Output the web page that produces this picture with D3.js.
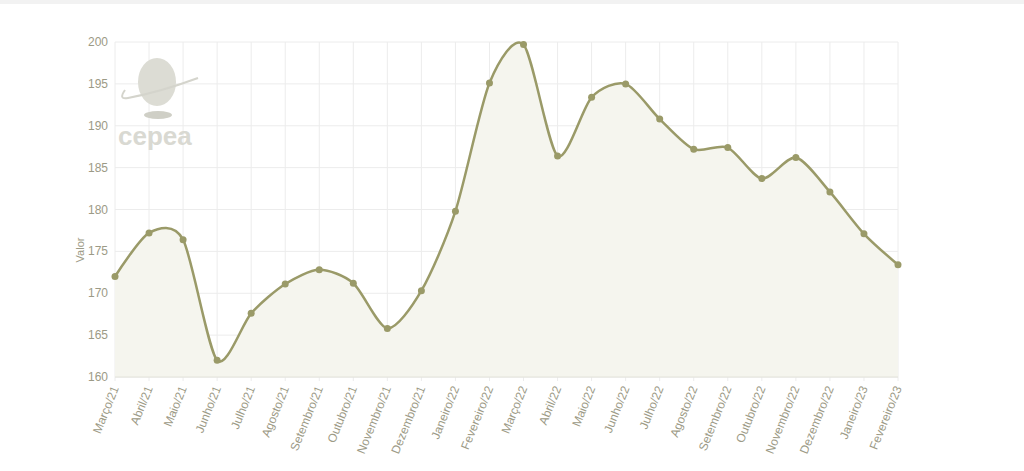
<!DOCTYPE html>
<html><head><meta charset="utf-8">
<script src="https://cdn.jsdelivr.net/npm/d3@7"></script>
<style>body{margin:0;background:#fff;font-family:"Liberation Sans",Arial,sans-serif}</style>
</head><body><svg id="c" width="1024" height="471"></svg>
<script>
const months = ['Março/21','Abril/21','Maio/21','Junho/21','Julho/21','Agosto/21','Setembro/21','Outubro/21','Novembro/21','Dezembro/21','Janeiro/22','Fevereiro/22','Março/22','Abril/22','Maio/22','Junho/22','Julho/22','Agosto/22','Setembro/22','Outubro/22','Novembro/22','Dezembro/22','Janeiro/23','Fevereiro/23'];
const values = [172,177.2,176.4,162,167.6,171.1,172.8,171.2,165.8,170.3,179.8,195.1,199.7,186.4,193.4,195.0,190.8,187.2,187.4,183.7,186.2,182.1,177.1,173.4];
const yTicks = [160,165,170,175,180,185,190,195,200];

const svg = d3.select('#c');
svg.append('rect').attr('width',1024).attr('height',4).attr('fill','#f2f2f2');
const x = d3.scalePoint().domain(months).range([115,898]);
const y = d3.scaleLinear().domain([160,200]).range([377,42]);
const tc = '#9c9a86';

// grid
svg.append('g').selectAll('line').data(yTicks).enter().append('line')
  .attr('x1',115).attr('x2',898).attr('y1',d=>y(d)).attr('y2',d=>y(d))
  .attr('stroke','#ececec');
svg.append('g').selectAll('line').data(months).enter().append('line')
  .attr('x1',d=>x(d)).attr('x2',d=>x(d)).attr('y1',42).attr('y2',381)
  .attr('stroke','#ececec');

// logo
const lg = svg.append('g').attr('fill','#d4d4cc');
lg.append('ellipse').attr('cx',157).attr('cy',82).attr('rx',19).attr('ry',24).attr('fill','#dcdcd4');
lg.append('path').attr('d','M198,78 Q160,92 128,98 Q118,100 125,90').attr('fill','none').attr('stroke','#d4d4cc').attr('stroke-width',2);
lg.append('ellipse').attr('cx',158).attr('cy',115).attr('rx',14).attr('ry',4).attr('fill','#cfcfc6');
lg.append('text').attr('x',118).attr('y',145).attr('font-size',26).attr('font-weight','bold').attr('fill','#d9d9d2').text('cepea');

// area + line
const area = d3.area().x((d,i)=>x(months[i])).y0(377).y1(d=>y(d)).curve(d3.curveCardinal.tension(0.2));
const line = d3.line().x((d,i)=>x(months[i])).y(d=>y(d)).curve(d3.curveCardinal.tension(0.2));
svg.append('path').datum(values).attr('d',area).attr('fill','#f5f5ee');
svg.append('line').attr('x1',115).attr('x2',898).attr('y1',377).attr('y2',377).attr('stroke','#e2e2da');
svg.append('path').datum(values).attr('d',line).attr('fill','none').attr('stroke','#9a9a68').attr('stroke-width',2.5);
svg.append('g').selectAll('circle').data(values).enter().append('circle')
  .attr('cx',(d,i)=>x(months[i])).attr('cy',d=>y(d)).attr('r',3.5).attr('fill','#9a9a68');

// y labels
svg.append('g').selectAll('text').data(yTicks).enter().append('text')
  .attr('x',108).attr('y',d=>y(d)+4).attr('text-anchor','end')
  .attr('font-size',12).attr('fill',tc).text(d=>d);
svg.append('text').attr('transform','translate(84,250) rotate(-90)').attr('text-anchor','middle')
  .attr('font-size',11).attr('fill',tc).text('Valor');
// x labels
svg.append('g').selectAll('text').data(months).enter().append('text')
  .attr('transform',d=>`translate(${x(d)+4},${388}) rotate(-68)`).attr('text-anchor','end')
  .attr('font-size',12).attr('fill',tc).text(d=>d);
</script></body></html>
